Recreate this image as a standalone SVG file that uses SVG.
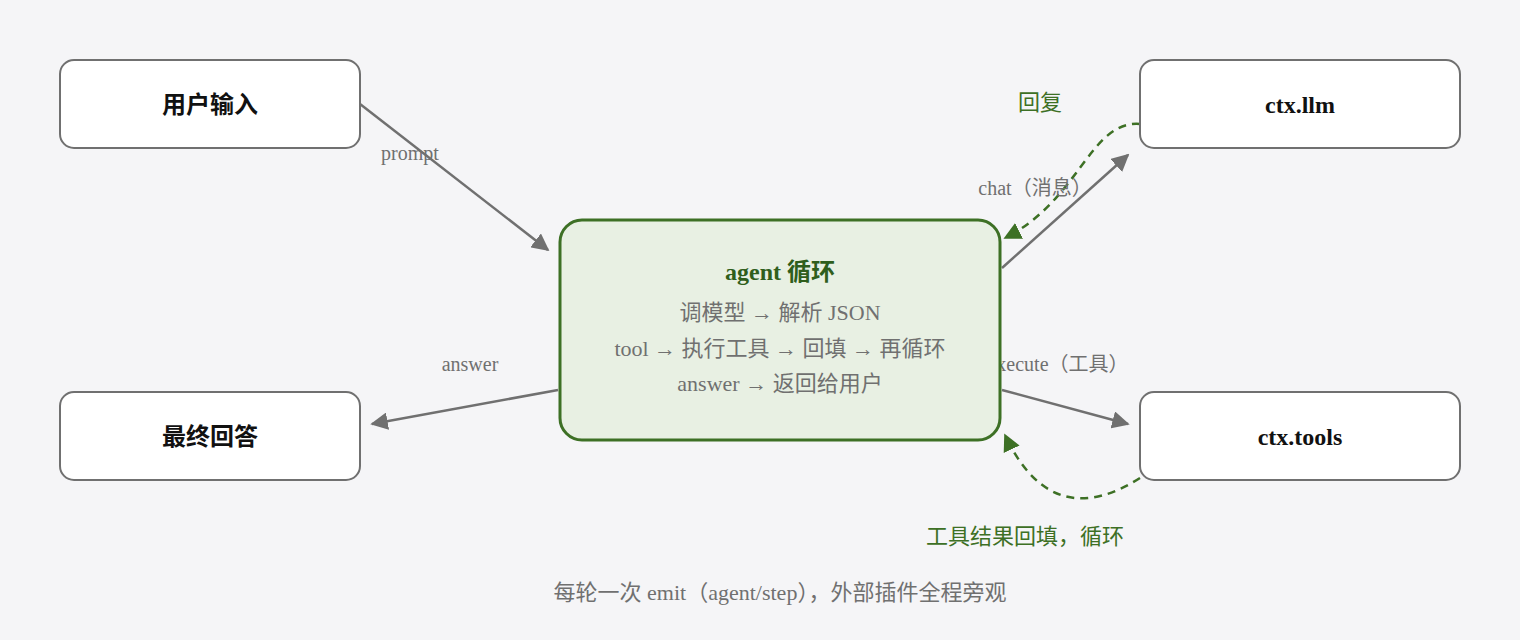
<svg xmlns="http://www.w3.org/2000/svg" width="1520" height="640" viewBox="0 0 1520 640">
<defs>
<marker id="ag" viewBox="0 0 10 10" refX="9" refY="5" markerWidth="7" markerHeight="7" orient="auto"><path d="M0,0 L10,5 L0,10 z" fill="#707070"/></marker>
<marker id="agr" viewBox="0 0 10 10" refX="9" refY="5" markerWidth="7" markerHeight="7" orient="auto"><path d="M0,0 L10,5 L0,10 z" fill="#3d7025"/></marker>
</defs>
<style>
text{font-family:"Liberation Serif","Noto Sans CJK SC",serif;}
.n{fill:#fff;stroke:#707070;stroke-width:2;}
.t{font-size:24px;font-weight:bold;fill:#111;text-anchor:middle;}
.l{font-size:20px;fill:#707070;text-anchor:middle;}
.g{font-size:22px;fill:#3d7025;text-anchor:middle;}
.e{stroke:#707070;stroke-width:2.5;fill:none;marker-end:url(#ag);}
.d{stroke:#3d7025;stroke-width:2.5;fill:none;stroke-dasharray:8 6;marker-end:url(#agr);}
</style>
<rect width="1520" height="640" fill="#f5f5f7"/>
<g id="connectors">
<path class="e" d="M360,104 L548,250"/>
<path class="e" d="M1002,268 L1128,155"/>
<path class="e" d="M558,390 L372,424"/>
<path class="e" d="M1002,390 L1128,424"/>
<path class="d" d="M1140,124 C1090,120 1080,200 1005,238"/>
<path class="d" d="M1140,478 C1090,510 1040,510 1005,435"/>
<text class="l" x="410" y="160">prompt</text>
<text class="l" x="1035" y="195">chat（消息）</text>
<text class="l" x="470" y="371">answer</text>
<text class="l" x="1058" y="371">execute（工具）</text>
<text class="g" x="1040" y="110">回复</text>
<text class="g" x="1025" y="544">工具结果回填，循环</text>
</g>
<g id="user"><rect class="n" x="60" y="60" width="300" height="88" rx="14"/><text class="t" x="210" y="113">用户输入</text></g>
<g id="llm"><rect class="n" x="1140" y="60" width="320" height="88" rx="14"/><text class="t" x="1300" y="113">ctx.llm</text></g>
<g id="final"><rect class="n" x="60" y="392" width="300" height="88" rx="14"/><text class="t" x="210" y="445">最终回答</text></g>
<g id="tools"><rect class="n" x="1140" y="392" width="320" height="88" rx="14"/><text class="t" x="1300" y="445">ctx.tools</text></g>
<g id="agent"><rect x="560" y="220" width="440" height="220" rx="22" fill="#e8f0e3" stroke="#3d7025" stroke-width="3"/>
<text x="780" y="280" style="font-size:24px;font-weight:bold;fill:#2f5e1c;text-anchor:middle">agent 循环</text>
<text class="l" x="780" y="320" style="font-size:22px">调模型 → 解析 JSON</text>
<text class="l" x="780" y="356" style="font-size:22px">tool → 执行工具 → 回填 → 再循环</text>
<text class="l" x="780" y="391" style="font-size:22px">answer → 返回给用户</text>
</g>
<text class="l" x="780" y="600" style="font-size:22px">每轮一次 emit（agent/step），外部插件全程旁观</text>
</svg>
